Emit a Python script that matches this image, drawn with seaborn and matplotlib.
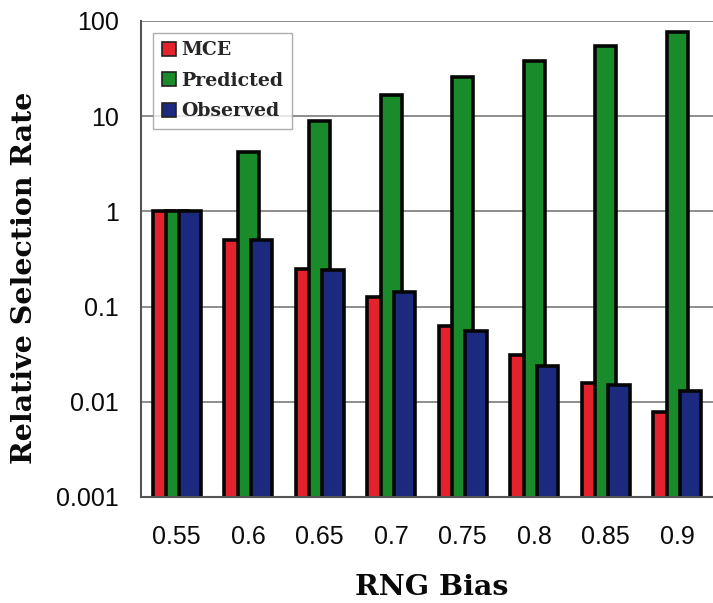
import numpy as np
import pandas as pd
import matplotlib
matplotlib.use("Agg")
import matplotlib.pyplot as plt
import seaborn as sns
from matplotlib.patches import Patch
from matplotlib.ticker import FixedLocator, FixedFormatter, NullLocator

# Data
bias = ["0.55", "0.6", "0.65", "0.7", "0.75", "0.8", "0.85", "0.9"]
mce = [1.0, 0.5, 0.25, 0.125, 0.0625, 0.03125, 0.015625, 0.0078125]
predicted = [1.0, 4.2, 9.0, 16.5, 26.0, 37.7, 54.0, 77.0]
observed = [1.0, 0.5, 0.24, 0.144, 0.055, 0.0235, 0.0149, 0.0129]
series = ["MCE", "Predicted", "Observed"]
y_ticks = [0.001, 0.01, 0.1, 1, 10, 100]
y_tick_labels = ["0.001", "0.01", "0.1", "1", "10", "100"]

colors = ["#E3222E", "#1A8B2B", "#1B2A7E"]

df = pd.DataFrame({
    "bias": bias * 3,
    "rate": mce + predicted + observed,
    "series": [s for s in series for _ in bias],
})

sns.set_theme(style="white")
fig = plt.figure(figsize=(7.13, 6.03), dpi=100)
ax = fig.add_axes([0.1978, 0.1758, 0.8022, 0.7894])

sns.barplot(data=df, x="bias", y="rate", hue="series", order=bias,
            hue_order=series, palette=colors, width=0.555, dodge=True,
            edgecolor="#050505", linewidth=2.6, saturation=1.0,
            legend=False, ax=ax)
ax.set_yscale("log")

# overlapping bars: widen each bar around its dodge position
bar_w = 0.30
for cont in ax.containers:
    for p in cont:
        cx = p.get_x() + p.get_width() / 2
        p.set_x(cx - bar_w / 2)
        p.set_width(bar_w)

ax.set_ylim(0.001, 100)
ax.set_xlim(-0.487, 7.36)

ax.yaxis.set_major_locator(FixedLocator(y_ticks))
ax.yaxis.set_major_formatter(FixedFormatter(y_tick_labels))
ax.yaxis.set_minor_locator(NullLocator())
ax.grid(axis="y", color="#858585", linewidth=1.3)
ax.grid(axis="x", visible=False)
ax.set_axisbelow(True)

ax.set_xticks(range(len(bias)))
ax.set_xticklabels(bias)
ax.set_xticks(np.arange(-0.5, len(bias), 1.0), minor=True)
ax.tick_params(axis="x", which="major", length=0, pad=20, labelsize=18)
ax.tick_params(axis="x", which="minor", length=5, width=1, color="#555555", direction="out")
ax.tick_params(axis="y", which="major", length=5, width=1, color="#555555",
               direction="out", labelsize=18, pad=11)
for lab in ax.get_xticklabels() + ax.get_yticklabels():
    lab.set_family("Liberation Sans")
    lab.set_color("#0a0a0a")

for side in ["top", "right"]:
    ax.spines[side].set_visible(False)
for side in ["left", "bottom"]:
    ax.spines[side].set_color("#555555")
    ax.spines[side].set_linewidth(1.5)

label_font = dict(family="DejaVu Serif", weight="heavy", size=20.5, color="#0a0a0a")
ax.set_ylabel("Relative Selection Rate", **label_font)
ax.set_xlabel("RNG Bias", **label_font)
ax.yaxis.set_label_coords(-0.18, 0.46)
ax.xaxis.set_label_coords(0.509, -0.162)

handles = [Patch(facecolor=c, edgecolor="#222222", linewidth=1.2) for c in colors]
leg = ax.legend(handles, series, loc="upper left", bbox_to_anchor=(0.021, 0.975),
                borderaxespad=0, frameon=True, fancybox=False, edgecolor="#999999",
                handlelength=0.75, handleheight=0.75, handletextpad=0.3,
                labelspacing=0.66, borderpad=0.45,
                prop=dict(family="DejaVu Serif", weight="bold", size=13.6))
leg.get_frame().set_linewidth(1.0)

fig.savefig("out.png", dpi=100)
